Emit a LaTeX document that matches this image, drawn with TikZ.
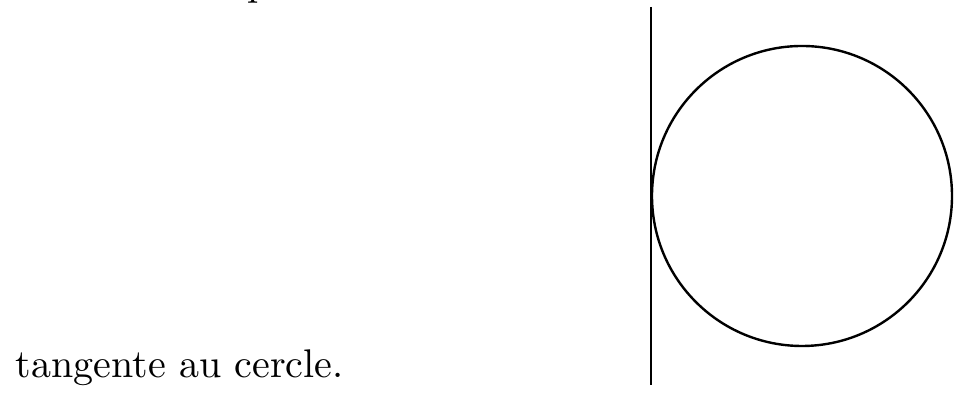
\documentclass[tikz,border=0pt]{standalone}
\usepackage{tikz}
\usetikzlibrary{positioning,calc}
\tikzset{
  txt/.style={inner sep=0pt,anchor=base west,font=\normalsize},
  trait/.style={line width=0.6pt,draw=black}
}
\begin{document}
\begin{tikzpicture}[x=0.25pt,y=0.25pt]
  \useasboundingbox (0,0) rectangle (954,394);
  \node[txt] (haut) at (247,398) {p};
  \node[txt] (bas) at (15,16) {tangente au cercle.};
  \coordinate (O) at (802,198);
  \coordinate (T1) at (651,387);
  \coordinate (T2) at (651,9);

  \draw[trait] (T1) -- (T2);
  \draw[trait] (O) circle (150);
\end{tikzpicture}
\end{document}
